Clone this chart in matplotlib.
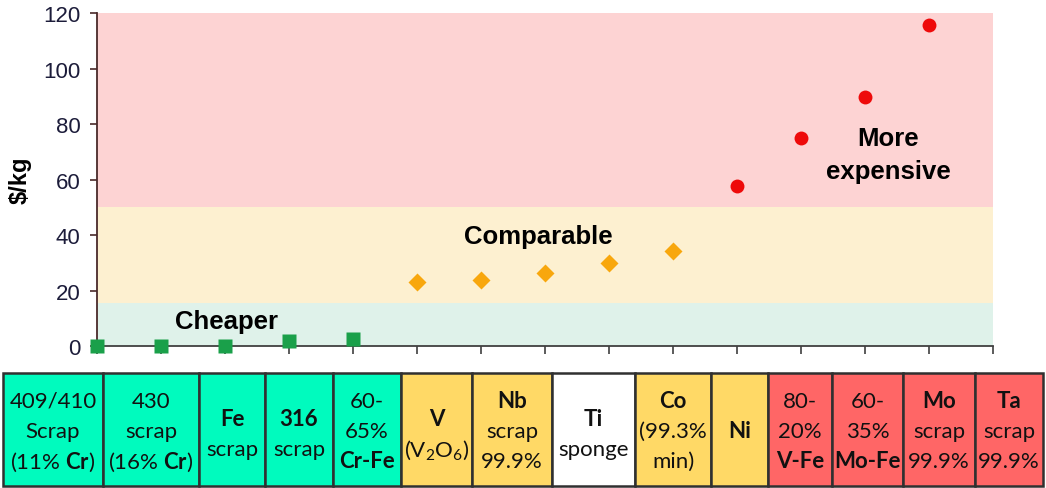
import numpy as np
import matplotlib
matplotlib.use("Agg")
import matplotlib.pyplot as plt
from matplotlib.patches import Rectangle

plt.rcParams['font.family'] = ['Liberation Sans', 'DejaVu Sans']
plt.rcParams['mathtext.fontset'] = 'custom'
plt.rcParams['mathtext.rm'] = 'Lato'
plt.rcParams['mathtext.it'] = 'Lato'
plt.rcParams['mathtext.bf'] = 'Lato:bold'

# prices ($/kg), one group per band
cheaper = [0.0, 0.0, 0.0, 1.8, 2.4]
comparable = [23.2, 23.7, 26.2, 29.9, 34.2]
expensive = [57.7, 75.0, 89.8, 115.8]

# band limits ($/kg)
band_edges = [0, 15.5, 50, 120]
band_names = ['Cheaper', 'Comparable', 'More\nexpensive']

yticks = [0, 20, 40, 60, 80, 100, 120]

# material table below the chart, **...** marks bold text
cell_lines = [
    ['409/410', 'Scrap', '(11% **Cr**)'],
    ['430', 'scrap', '(16% **Cr**)'],
    ['**Fe**', 'scrap'],
    ['**316**', 'scrap'],
    ['60-', '65%', '**Cr-Fe**'],
    ['**V**', '(V$_2$O$_6$)'],
    ['**Nb**', 'scrap', '99.9%'],
    ['**Ti**', 'sponge'],
    ['**Co**', '(99.3%', 'min)'],
    ['**Ni**'],
    ['80-', '20%', '**V-Fe**'],
    ['60-', '35%', '**Mo-Fe**'],
    ['**Mo**', 'scrap', '99.9%'],
    ['**Ta**', 'scrap', '99.9%'],
]
cell_group = ['cheap'] * 5 + ['comp', 'comp', 'none', 'comp', 'comp'] + ['exp'] * 4

band_colors = ['#dff2ea', '#fdf0d0', '#fdd3d3']
cell_colors = {'cheap': '#00fbbe', 'comp': '#ffd966', 'none': '#ffffff', 'exp': '#ff6666'}
# cell edges in pixels
cell_edges = [3, 103, 199, 265, 333, 401, 472, 552, 635, 711, 768, 832, 903, 975, 1043]

W, H = 1046, 489
fig = plt.figure(figsize=(W / 100, H / 100), dpi=100)
ax = fig.add_axes([97 / W, 1 - 347 / H, 896 / W, 333 / H])

n = len(cheaper) + len(comparable) + len(expensive)
ax.set_xlim(0, n)
ax.set_ylim(0, 120)

for lo, hi, c in zip(band_edges[:-1], band_edges[1:], band_colors):
    ax.axhspan(lo, hi, color=c, lw=0, zorder=0)

x = np.arange(n)
x1 = x[:len(cheaper)]
x2 = x[len(cheaper):len(cheaper) + len(comparable)]
x3 = x[len(cheaper) + len(comparable):]
ax.plot(x1, cheaper, 's', color='#1aa04a', ms=10, mec='none', clip_on=False, zorder=3)
ax.plot(x2, comparable, 'D', color='#f8a70d', ms=9.5, mec='none', clip_on=False, zorder=3)
ax.plot(x3, expensive, 'o', color='#ee0a0a', ms=10, mec='none', clip_on=False, zorder=3)

ax.text(2.02, 9.0, band_names[0], fontsize=18.5, fontweight='bold', ha='center', va='center')
ax.text(6.9, 39.6, band_names[1], fontsize=18.5, fontweight='bold', ha='center', va='center')
ax.text(12.36, 69.0, band_names[2], fontsize=18.5, fontweight='bold', ha='center', va='center',
        linespacing=1.45)

for s in ['top', 'right']:
    ax.spines[s].set_visible(False)
ax.spines['left'].set_color('#4a2a2a')
ax.spines['bottom'].set_color('#404040')
ax.spines['left'].set_linewidth(1.3)
ax.spines['bottom'].set_linewidth(1.3)

ax.set_xticks(np.arange(n + 1))
ax.set_xticklabels([])
ax.set_yticks(yticks)
ax.tick_params(axis='x', length=5.5, width=1.2, color='#404040')
ax.tick_params(axis='y', length=5, width=1.2, color='#4a2a2a', pad=7,
               labelsize=16, labelcolor='#1c1c3a')
ax.set_ylabel(r'\$/kg', fontsize=17, fontweight='bold')
ax.yaxis.set_label_coords(-0.073, 0.5)

# table of materials
tab = fig.add_axes([0, 0, 1, 1])
tab.set_xlim(0, W)
tab.set_ylim(H, 0)
tab.axis('off')

top, bottom = 374, 487
line_y = {1: [432], 2: [420, 450], 3: [402, 432, 462]}
for i, lines in enumerate(cell_lines):
    l, r = cell_edges[i], cell_edges[i + 1]
    tab.add_patch(Rectangle((l, top), r - l, bottom - top, facecolor=cell_colors[cell_group[i]],
                            edgecolor='#303030', lw=1.8))
    for txt, yy in zip(lines, line_y[len(lines)]):
        weight = 'normal'
        if txt.startswith('**') and txt.endswith('**') and txt.count('**') == 2:
            txt = txt[2:-2]
            weight = 'bold'
        elif '**' in txt:
            parts = txt.split('**')
            txt = ''.join(p if k % 2 == 0 else r'$\mathbf{' + p + '}$' for k, p in enumerate(parts))
        tab.text((l + r) / 2, yy, txt, ha='center', va='center', fontsize=16,
                 fontweight=weight, family=['Lato', 'DejaVu Sans'], color='#111111')

fig.savefig('out.png', dpi=100)
